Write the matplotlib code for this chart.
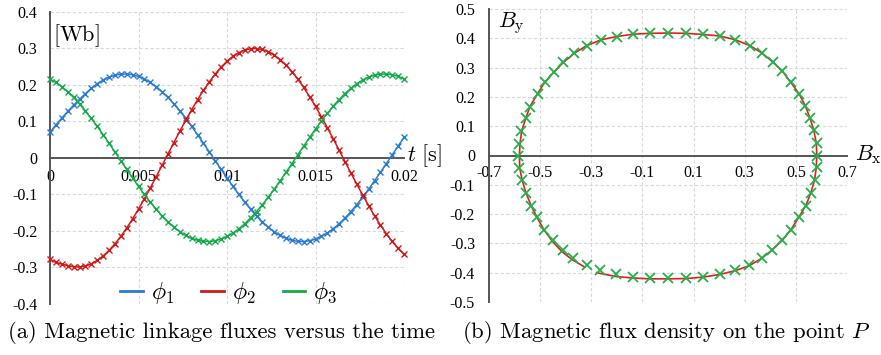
import numpy as np
import matplotlib
matplotlib.use("Agg")
import matplotlib.pyplot as plt
from matplotlib.ticker import MultipleLocator, FuncFormatter
from matplotlib.lines import Line2D

plt.rcParams["mathtext.fontset"] = "cm"
plt.rcParams["axes.unicode_minus"] = False

# linkage fluxes, one sample every 1/60 of the period
t = np.linspace(0, 0.02, 61)
phi1 = [0.070, 0.090, 0.109, 0.127, 0.144, 0.160, 0.176, 0.1907, 0.2031, 0.2133,
        0.2211, 0.2265, 0.2294, 0.2299, 0.2278, 0.2232, 0.2161, 0.2067, 0.1950, 0.1812,
        0.1654, 0.1478, 0.1286, 0.1080, 0.0862, 0.0634, 0.0399, 0.0161, -0.0080, -0.0320,
        -0.0556, -0.0787, -0.1008, -0.1219, -0.1416, -0.1598, -0.1762, -0.1907, -0.2031, -0.2133,
        -0.2211, -0.2265, -0.2294, -0.2299, -0.2278, -0.2232, -0.2161, -0.2067, -0.1950, -0.1812,
        -0.1654, -0.1478, -0.1286, -0.1080, -0.0862, -0.0634, -0.0399, -0.0161, 0.0080, 0.0320,
        0.0556]
phi2 = [-0.279, -0.287, -0.292, -0.296, -0.2993, -0.2998, -0.2971, -0.2911, -0.2819, -0.2696,
        -0.2544, -0.2364, -0.2158, -0.1928, -0.1678, -0.1409, -0.1124, -0.0827, -0.0521, -0.0209,
        0.0105, 0.0418, 0.0726, 0.1026, 0.1315, 0.1590, 0.1847, 0.2084, 0.2298, 0.2487,
        0.2649, 0.2782, 0.2884, 0.2954, 0.2993, 0.2998, 0.2971, 0.2911, 0.2819, 0.2696,
        0.2544, 0.2364, 0.2158, 0.1928, 0.1678, 0.1409, 0.1124, 0.0827, 0.0521, 0.0209,
        -0.0105, -0.0418, -0.0726, -0.1026, -0.1315, -0.1590, -0.1847, -0.2084, -0.2298, -0.2487,
        -0.2649]
phi3 = [0.2161, 0.2067, 0.1950, 0.1812, 0.1654, 0.1478, 0.1286, 0.1080, 0.0862, 0.0634,
        0.0399, 0.0161, -0.0080, -0.0320, -0.0556, -0.0787, -0.1008, -0.1219, -0.1416, -0.1598,
        -0.1762, -0.1907, -0.2031, -0.2133, -0.2211, -0.2265, -0.2294, -0.2299, -0.2278, -0.2232,
        -0.2161, -0.2067, -0.1950, -0.1812, -0.1654, -0.1478, -0.1286, -0.1080, -0.0862, -0.0634,
        -0.0399, -0.0161, 0.0080, 0.0320, 0.0556, 0.0787, 0.1008, 0.1219, 0.1416, 0.1598,
        0.1762, 0.1907, 0.2031, 0.2133, 0.2211, 0.2265, 0.2294, 0.2299, 0.2278, 0.2232,
        0.2161]

# flux density locus at P: measured points (markers)
bx_pts = [-0.585, -0.583, -0.575, -0.556, -0.540, -0.510, -0.482, -0.447, -0.409, -0.366,
          -0.318, -0.261, -0.201, -0.136, -0.070, 0.001, 0.070, 0.138, 0.203, 0.263,
          0.321, 0.368, 0.412, 0.447, 0.480, 0.512, 0.537, 0.555, 0.571, 0.582,
          0.584, 0.582, 0.575, 0.558, 0.539, 0.512, 0.481, 0.447, 0.408, 0.366,
          0.318, 0.263, 0.203, 0.138, 0.069, -0.001, -0.070, -0.138, -0.204, -0.266,
          -0.318, -0.370, -0.409, -0.449, -0.484, -0.513, -0.537, -0.556, -0.572, -0.583]
by_pts = [0.0, 0.040, 0.085, 0.127, 0.167, 0.211, 0.250, 0.284, 0.318, 0.349,
          0.375, 0.395, 0.406, 0.415, 0.419, 0.419, 0.419, 0.413, 0.408, 0.395,
          0.375, 0.349, 0.318, 0.288, 0.250, 0.211, 0.170, 0.128, 0.087, 0.042,
          0.0, -0.040, -0.085, -0.129, -0.171, -0.210, -0.253, -0.288, -0.321, -0.350,
          -0.375, -0.392, -0.404, -0.413, -0.418, -0.418, -0.418, -0.413, -0.406, -0.392,
          -0.375, -0.349, -0.321, -0.288, -0.253, -0.210, -0.171, -0.129, -0.085, -0.043]

# computed locus (line), with a short break in the lower left
bx_line = [0.582, 0.580, 0.570, 0.555, 0.537, 0.512, 0.480, 0.447, 0.412, 0.368,
           0.321, 0.263, 0.203, 0.138, 0.070, 0.0, -0.070, -0.136, -0.201, -0.261,
           -0.318, -0.366, -0.409, -0.447, -0.482, -0.510, -0.540, -0.556, -0.572, -0.579,
           -0.581, -0.580, -0.570, -0.555, -0.535, -0.512, -0.484, -0.452, -0.415, -0.372,
           -0.325, np.nan, -0.279, -0.204, -0.138, -0.070, 0.0, 0.069, 0.138, 0.203,
           0.263, 0.318, 0.366, 0.408, 0.447, 0.481, 0.512, 0.539, 0.558, 0.573,
           0.580, 0.582]
by_line = [0.0, 0.042, 0.087, 0.128, 0.170, 0.211, 0.250, 0.288, 0.318, 0.349,
           0.375, 0.395, 0.408, 0.413, 0.417, 0.418, 0.417, 0.414, 0.406, 0.395,
           0.375, 0.349, 0.318, 0.284, 0.250, 0.211, 0.167, 0.127, 0.085, 0.040,
           0.0, -0.043, -0.085, -0.129, -0.171, -0.212, -0.255, -0.293, -0.328, -0.357,
           -0.381, np.nan, -0.400, -0.413, -0.418, -0.421, -0.421, -0.420, -0.415, -0.406,
           -0.393, -0.376, -0.351, -0.322, -0.289, -0.253, -0.210, -0.171, -0.129, -0.085,
           -0.040, 0.0]

colors = ["#2A7BD0", "#D01818", "#14AA4A"]
tick_font = dict(family="Liberation Serif", size=11.5)
fmt = FuncFormatter(lambda v, p: "%g" % round(v, 6))


def style_axes(ax, xstep, ystep, xpad, ypad):
    ax.xaxis.set_major_locator(MultipleLocator(xstep))
    ax.yaxis.set_major_locator(MultipleLocator(ystep))
    ax.xaxis.set_major_formatter(fmt)
    ax.yaxis.set_major_formatter(fmt)
    ax.grid(True, color="#D9D9D9", linestyle=(0, (3, 2)), linewidth=0.8)
    ax.set_axisbelow(True)
    ax.spines["top"].set_visible(False)
    ax.spines["right"].set_visible(False)
    ax.spines["bottom"].set_position(("data", 0))
    for s in ("left", "bottom"):
        ax.spines[s].set_color("#555555")
        ax.spines[s].set_linewidth(1.4)
    ax.tick_params(axis="x", length=0, pad=xpad)
    ax.tick_params(axis="y", length=0, pad=ypad)
    for lab in ax.get_xticklabels() + ax.get_yticklabels():
        lab.set_fontfamily(tick_font["family"])
        lab.set_fontsize(tick_font["size"])


fig = plt.figure(figsize=(8.81, 3.55), dpi=100)

# (a) linkage fluxes
ax1 = fig.add_axes([50 / 881, 1 - 303.5 / 355, 354 / 881, 291.5 / 355])
ax1.set_xlim(0, 0.02)
ax1.set_ylim(-0.4, 0.4)
style_axes(ax1, 0.005, 0.1, 8, 9)
for y, c in zip([phi1, phi2, phi3], colors):
    ax1.plot(t, y, color=c, lw=1.1, marker="x", ms=4.5, mew=1.0, clip_on=False, zorder=3)
ax1.text(0.008, 0.966, r"$\mathrm{[Wb]}$", transform=ax1.transAxes,
         ha="left", va="top", fontsize=16)
ax1.text(0.02015, -0.008, r"$t\ \mathrm{[s]}$", ha="left", va="baseline",
         fontsize=16, clip_on=False)
handles = [Line2D([], [], color=c, lw=2) for c in colors]
ax1.legend(handles, [r"$\phi_1$", r"$\phi_2$", r"$\phi_3$"], ncol=3, frameon=False,
           loc="center", bbox_to_anchor=(0.505, 0.036), fontsize=17,
           handlelength=0.95, handletextpad=0.35, columnspacing=1.15)

# (b) flux density locus
ax2 = fig.add_axes([489 / 881, 1 - 302 / 355, 358 / 881, 293 / 355])
ax2.set_xlim(-0.7, 0.7)
ax2.set_ylim(-0.5, 0.5)
style_axes(ax2, 0.2, 0.1, 7, 10)
ax2.set_xticks(np.arange(-0.7, 0.71, 0.2))
ax2.plot(bx_line, by_line, color="#E02020", lw=1.2, zorder=3)
ax2.plot(bx_pts, by_pts, ls="none", marker="x", ms=6.5, mew=1.3, color="#22B04A", zorder=4)
for lab in ax2.get_xticklabels():
    lab.set_fontfamily(tick_font["family"])
    lab.set_fontsize(tick_font["size"])
ax2.text(0.025, 0.997, r"$B_\mathrm{y}$", transform=ax2.transAxes,
         ha="left", va="top", fontsize=16)
ax2.text(0.731, -0.017, r"$B_\mathrm{x}$", ha="left", va="baseline",
         fontsize=16, clip_on=False)

fig.text(222 / 881, 1 - 332 / 355, "(a) Magnetic linkage fluxes versus the time",
         family="cmr10", fontsize=16.3, ha="center", va="center")
fig.text(666 / 881, 1 - 332 / 355, "(b) Magnetic flux density on the point $P$",
         family="cmr10", fontsize=16.3, ha="center", va="center")

fig.savefig("out.png", dpi=100)
